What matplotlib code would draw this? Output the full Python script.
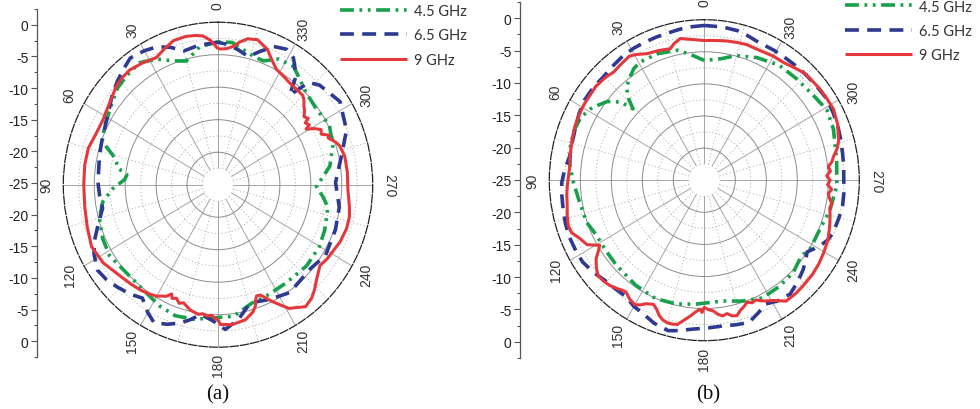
import numpy as np
import matplotlib
matplotlib.use("Agg")
import matplotlib.pyplot as plt
from matplotlib.ticker import FixedLocator

plt.rcParams['lines.scale_dashes'] = False
plt.rcParams['font.family'] = ['Liberation Sans', 'DejaVu Sans']

# ---------------- data (angle in degrees, gain in dB) ----------------
series_labels = ['4.5 GHz', '6.5 GHz', '9 GHz']

# panel (a)
ang_a_45 = [0, 8, 15, 21, 27, 34, 41, 48, 56, 64, 70, 72, 75, 78, 81, 84, 87, 92, 98, 105, 114, 122, 130,
            141, 153, 161, 169, 178, 187, 197, 204, 216, 229, 240, 248, 259, 264, 269, 274, 279, 288, 297,
            306, 315, 326, 333, 339, 344, 354, 360]
db_a_45 = [-3.0, -3.6, -5.3, -4.6, -3.3, -2.35, -2.65, -3.0, -4.0, -4.6, -5.1, -6.0, -7.4, -8.2, -8.6, -10.2,
           -9.9, -8.0, -6.2, -5.15, -4.6, -4.35, -4.85, -4.9, -4.1, -3.7, -3.9, -4.5, -4.6, -6.0, -6.15, -6.3,
           -6.0, -6.05, -6.4, -6.9, -8.0, -9.1, -8.0, -6.7, -5.5, -4.8, -5.3, -4.9, -3.1, -3.3, -4.6, -4.4,
           -3.0, -3.0]

ang_a_65 = [0, 8, 15, 20, 25, 30, 36, 41, 46, 51, 56, 63, 71, 76, 82, 89, 95, 101, 107, 113, 118, 124, 129,
            134, 140, 145, 150, 154, 159, 164, 168, 172, 178, 183, 189, 196, 205, 215, 229, 238, 250, 260,
            271, 282, 292, 303, 313, 317, 320, 323, 328, 332, 337, 342, 346, 351, 356, 360]
db_a_65 = [-3.1, -3.3, -3.7, -2.5, -1.6, -1.2, -0.9, -1.6, -2.3, -3.0, -3.85, -4.6, -5.1, -5.3, -5.55, -5.6,
           -5.8, -6.0, -4.8, -3.35, -2.3, -1.5, -1.8, -2.35, -3.0, -3.7, -2.3, -1.4, -2.0, -2.85, -3.8, -4.85,
           -4.0, -2.7, -4.0, -6.1, -5.5, -4.75, -5.25, -4.5, -4.8, -5.1, -6.0, -4.65, -2.6, -1.5, -2.55, -3.5,
           -7.0, -4.0, -2.0, -1.4, -1.9, -3.5, -4.7, -4.0, -3.35, -3.1]

ang_a_9 = [0, 3, 6, 9, 13, 18, 22, 27, 33, 39, 43, 47, 54, 62, 68, 75, 82, 90, 99, 107, 115, 123, 131, 137,
           142, 146, 150, 152, 154, 156, 157, 159, 161, 163, 165, 167, 169, 171, 173, 175, 177, 178, 180, 181,
           186, 192, 196, 198, 199, 200, 202, 204, 206, 211, 217, 221, 224, 228, 233, 237, 241, 246, 252, 257,
           261, 268, 275, 282, 285, 287, 289, 290, 292, 293, 295, 297, 299, 301, 302, 304, 305, 307, 309, 311,
           313, 315, 319, 324, 328, 332, 336, 339, 344, 348, 351, 353, 356, 358, 360]
db_a_9 = [-4.1, -2.8, -2.0, -1.75, -1.6, -1.7, -2.3, -3.05, -2.65, -2.3, -2.4, -2.6, -3.4, -3.9, -3.8, -3.3,
          -3.25, -3.3, -3.2, -2.9, -2.45, -2.9, -3.8, -4.2, -4.5, -4.8, -5.2, -5.6, -5.9, -6.6, -6.0, -6.3,
          -5.7, -6.0, -5.6, -5.2, -5.0, -4.8, -5.0, -4.7, -4.9, -4.6, -4.2, -3.5, -3.35, -3.75, -4.6, -5.4,
          -6.3, -6.8, -6.7, -5.9, -5.0, -2.8, -1.5, -1.9, -2.55, -3.5, -4.35, -4.0, -3.8, -3.4, -3.15, -3.2,
          -3.5, -4.0, -4.0, -4.05, -4.3, -4.45, -4.9, -5.2, -5.8, -5.5, -6.6, -6.3, -7.2, -8.4, -7.6, -8.0,
          -7.2, -7.6, -7.0, -6.6, -6.0, -5.6, -5.6, -5.5, -5.2, -4.9, -3.8, -2.7, -1.8, -2.05, -2.8, -3.5,
          -4.0, -4.1, -4.1]

# panel (b)
ang_b_45 = [0, 7, 12, 21, 29, 33, 37, 41, 44, 46, 48, 52, 56, 59, 64, 70, 77, 84, 91, 98, 109, 116, 124,
            133, 146, 157, 167, 176, 189, 198, 207, 216, 225, 233, 238, 248, 257, 268, 279, 291, 299, 307,
            317, 326, 336, 345, 352, 360]
db_b_45 = [-6.35, -5.2, -4.3, -3.9, -3.9, -4.2, -5.0, -5.85, -7.5, -9.0, -6.8, -5.1, -4.2, -3.5, -2.8, -2.6,
           -2.8, -3.2, -3.9, -4.5, -4.9, -5.6, -5.7, -5.6, -5.25, -4.95, -5.2, -5.65, -5.95, -5.2, -4.4, -4.5,
           -4.7, -5.4, -4.85, -4.85, -4.2, -3.6, -3.4, -2.7, -2.4, -3.0, -3.3, -3.4, -4.1, -4.9, -5.9, -6.35]

ang_b_65 = [0, 7, 13, 19, 24, 29, 34, 40, 45, 51, 57, 63, 69, 75, 80, 86, 91, 96, 102, 107, 112, 118, 123,
            129, 134, 139, 145, 150, 155, 160, 166, 170, 175, 182, 188, 193, 198, 203, 207, 212, 218, 224,
            229, 233, 236, 239, 242, 245, 249, 255, 260, 265, 270, 276, 281, 286, 291, 297, 303, 309, 315,
            320, 325, 331, 338, 343, 347, 353, 360]
db_b_65 = [-0.9, -1.0, -1.3, -1.4, -1.45, -1.5, -1.6, -1.9, -2.1, -2.0, -2.0, -2.3, -2.7, -2.9, -3.0, -2.4,
           -2.0, -1.9, -1.75, -1.6, -1.5, -1.55, -1.6, -2.1, -2.6, -2.8, -2.9, -2.3, -1.95, -1.3, -0.85, -1.2,
           -1.7, -2.0, -2.1, -1.9, -1.7, -2.6, -3.35, -2.8, -2.5, -3.2, -3.85, -4.5, -5.0, -4.3, -3.6, -3.0,
           -2.65, -2.5, -2.35, -2.4, -2.5, -2.4, -2.3, -2.1, -1.9, -1.7, -1.55, -1.7, -1.8, -1.85, -1.9,
           -1.85, -1.8, -1.4, -1.1, -0.95, -0.9]

ang_b_9 = [0, 5, 10, 13, 15, 20, 25, 29, 32, 37, 41, 45, 50, 55, 59, 64, 68, 72, 76, 80, 84, 88, 92, 96,
           100, 104, 108, 111, 114, 118, 121, 123, 125, 128, 131, 134, 137, 140, 142, 144, 147, 150, 152,
           154, 157, 159, 161, 163, 165, 167, 169, 171, 174, 176, 178, 179, 180, 182, 184, 186, 188, 190,
           192, 194, 196, 198, 200, 202, 204, 206, 208, 211, 213, 215, 220, 224, 230, 235, 240, 245, 250,
           253, 255, 258, 260, 262, 264, 266, 268, 270, 272, 274, 276, 278, 280, 283, 286, 292, 298, 303,
           307, 312, 316, 320, 325, 330, 337, 342, 346, 350, 353, 357, 360]
db_b_9 = [-3.25, -3.0, -2.6, -3.2, -3.8, -3.5, -3.25, -2.6, -2.2, -2.5, -2.7, -2.4, -2.2, -2.3, -2.3, -2.4,
          -2.5, -2.7, -2.9, -3.0, -3.2, -3.1, -2.9, -2.7, -2.55, -2.2, -1.95, -2.1, -2.9, -3.6, -5.3, -4.6,
          -3.7, -2.9, -2.3, -2.4, -2.6, -3.0, -3.3, -3.5, -2.9, -2.6, -3.0, -3.6, -4.0, -3.5, -2.7, -2.2,
          -2.0, -2.0, -2.1, -2.8, -3.75, -4.4, -4.9, -4.4, -5.2, -4.8, -4.6, -4.0, -3.65, -3.9, -3.4, -3.25,
          -3.9, -4.3, -4.8, -4.4, -4.6, -4.1, -3.7, -3.15, -2.6, -2.0, -2.0, -2.1, -2.2, -2.4, -2.7, -3.0,
          -3.5, -3.8, -4.0, -4.3, -4.1, -4.6, -4.9, -4.4, -5.1, -4.7, -5.25, -4.6, -4.9, -4.2, -3.85, -3.0,
          -2.45, -1.8, -1.4, -1.5, -1.55, -1.7, -1.8, -2.2, -2.65, -2.7, -2.9, -2.8, -2.9, -3.0, -3.1, -3.2,
          -3.25]

# axes ticks / labels
theta_ticks = [0, 30, 60, 90, 120, 150, 180, 210, 240, 270, 300, 330]
theta_minor = [15, 45, 75, 105, 135, 165, 195, 225, 255, 285, 315, 345]
r_major = [-20, -15, -10, -5]
r_minor = [-22.5, -17.5, -12.5, -7.5, -2.5]
ytick_pos = [25, 20, 15, 10, 5, 0, -5, -10, -15, -20, -25]
ytick_labels = ['0', '-5', '-10', '-15', '-20', '-25', '-20', '-15', '-10', '-5', '0']
yminor_pos = [27.5, 22.5, 17.5, 12.5, 7.5, 2.5, -2.5, -7.5, -12.5, -17.5, -22.5, -27.5]

R_ORIGIN, R_MIN, R_MAX = -25, -22.5, 0

colors = ['#18a04a', '#2e3a92', '#e4383c']
styles = [(0, (10, 4, 2, 4, 2, 4)), (0, (10, 6)), '-']
widths = [2.6, 2.6, 2.2]

W, H = 980, 410
fig = plt.figure(figsize=(9.8, 4.1), dpi=100)


def fx(px):
    return px / W


def fy(py):
    return 1 - py / H


def make_panel(cx, cy, rx, ry, yx, ytop, ybot, data, leg_xy, caption, cap_xy):
    # left linear dB axis
    yax = fig.add_axes([fx(yx), fy(ybot), 0.0005, (ybot - ytop) / H])
    yax.set_ylim(-27.5, 27.5)
    for s in ['top', 'right', 'bottom']:
        yax.spines[s].set_visible(False)
    yax.spines['left'].set_color('#555555')
    yax.spines['left'].set_linewidth(0.9)
    yax.set_xticks([])
    yax.yaxis.set_major_locator(FixedLocator(ytick_pos))
    yax.set_yticklabels(ytick_labels)
    yax.yaxis.set_minor_locator(FixedLocator(yminor_pos))
    yax.tick_params(axis='y', which='major', direction='out', length=4.5, width=0.8,
                    pad=1.5, labelsize=10, color='#555555', labelcolor='#222222')
    yax.tick_params(axis='y', which='minor', direction='out', length=2.5, width=0.8, color='#555555')
    yax.patch.set_visible(False)

    ax = fig.add_axes([fx(cx - rx), fy(cy + ry), 2 * rx / W, 2 * ry / H], projection='polar')
    ax.set_aspect('auto')
    ax.set_theta_zero_location('N')
    ax.set_theta_direction(1)
    ax.set_rlim(R_MIN, R_MAX)
    ax.set_rorigin(R_ORIGIN)
    ax.set_thetagrids(theta_ticks, labels=[''] * len(theta_ticks))
    ax.set_rgrids(r_major, labels=[''] * len(r_major))
    ax.xaxis.grid(True, color='#a5a5a5', lw=0.7, ls='-')
    ax.yaxis.grid(True, color='#8c8c8c', lw=0.7, ls='-')
    ax.tick_params(axis='x', which='major', direction='out', length=4, width=0.8, color='#333333',
                   tick2On=False)
    ax.spines['polar'].set_linestyle((0, (6, 1.5)))
    ax.spines['polar'].set_color('#222222')
    ax.spines['polar'].set_linewidth(0.9)
    ax.spines['inner'].set_color('none')
    ax.spines['inner'].set_linewidth(0)
    ax.patch.set_edgecolor('none')

    circ = np.linspace(0, 2 * np.pi, 361)
    for rr in r_minor:
        ax.plot(circ, np.full_like(circ, rr), ls=(0, (1, 1.5)), color='#b5b5b5', lw=0.6, zorder=1)
    for a in theta_minor:
        t = np.deg2rad(a)
        ax.plot([t, t], [R_MIN, R_MAX], ls=(0, (1, 1.5)), color='#b5b5b5', lw=0.6, zorder=1)

    for a in theta_ticks:
        ax.text(np.deg2rad(a), R_MAX + 2.7, str(a), rotation=270 if a == 270 else 90,
                ha='center', va='center', rotation_mode='anchor', fontsize=10, color='#333333')

    for (ang, db), lab, c, ls, lw in zip(data, series_labels, colors, styles, widths):
        ax.plot(np.deg2rad(ang), db, color=c, ls=ls, lw=lw, label=lab,
                dash_capstyle='butt', solid_capstyle='butt', zorder=3)

    leg = ax.legend(loc='upper left', bbox_to_anchor=(fx(leg_xy[0]), fy(leg_xy[1])),
                    bbox_transform=fig.transFigure, frameon=False, handlelength=4.6,
                    handletextpad=0.5, labelspacing=0.72, borderpad=0, borderaxespad=0,
                    prop={'family': 'Lato', 'size': 10.5})
    for t in leg.get_texts():
        t.set_color('#333333')

    fig.text(fx(cap_xy[0]), fy(cap_xy[1]), caption, ha='center', va='center',
             family='Liberation Serif', fontsize=15, color='#111111')


make_panel(218, 185.7, 154.7, 162.5, 36.7, 10, 358,
           [(ang_a_45, db_a_45), (ang_a_65, db_a_65), (ang_a_9, db_a_9)],
           (340, 5), '(a)', (218, 395))
make_panel(704.3, 181.2, 155, 160.5, 520, 3, 359,
           [(ang_b_45, db_b_45), (ang_b_65, db_b_65), (ang_b_9, db_b_9)],
           (845, 0.5), '(b)', (708, 395))

fig.savefig('out.png', dpi=100)
